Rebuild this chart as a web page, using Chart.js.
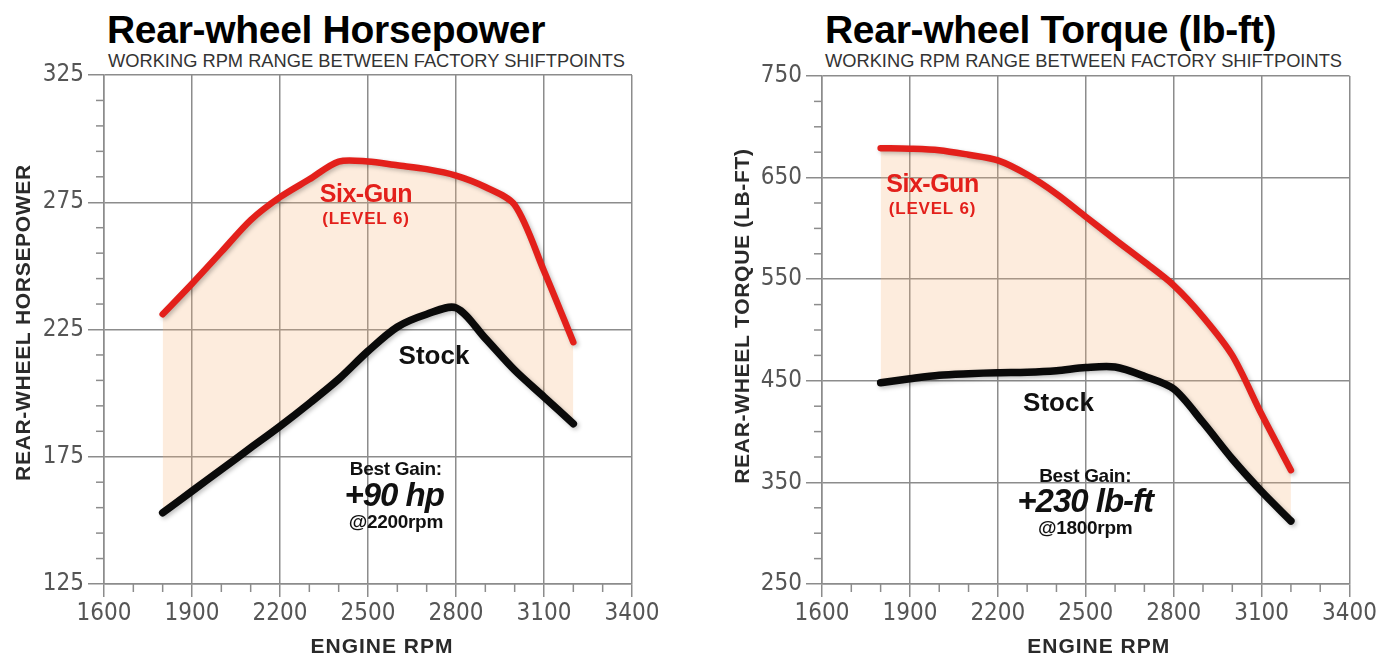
<!DOCTYPE html>
<html>
<head>
<meta charset="utf-8">
<title>Rear-wheel Horsepower / Torque</title>
<script src="https://cdn.jsdelivr.net/npm/chart.js@4.4.0/dist/chart.umd.min.js"></script>
<style>
	body {
		margin: 0;
		background: #fff;
		width: 1379px;
		height: 655px;
		position: relative;
		overflow: hidden;
		font-family: "Liberation Sans", Arial, sans-serif;
	}
	canvas {
		position: absolute;
		top: 0;
	}
	.title {
		position: absolute;
		top: 10px;
		font-weight: bold;
		font-size: 39px;
		line-height: 39px;
		color: #000;
		white-space: nowrap;
		letter-spacing: -0.3px;
	}
	.sub {
		position: absolute;
		top: 52px;
		font-size: 18.3px;
		line-height: 18.3px;
		color: #333;
		white-space: nowrap;
	}
</style>
</head>
<body>
<div class="title" style="left:107px">Rear-wheel Horsepower</div>
<div class="sub" style="left:108px">WORKING RPM RANGE BETWEEN FACTORY SHIFTPOINTS</div>
<div class="title" style="left:825px">Rear-wheel Torque (lb-ft)</div>
<div class="sub" style="left:825px">WORKING RPM RANGE BETWEEN FACTORY SHIFTPOINTS</div>

<canvas id="hp" width="690" height="655" style="left:0"></canvas>
<canvas id="tq" width="689" height="655" style="left:690px"></canvas>

<script>
const rpm = [1800, 1900, 2000, 2100, 2200, 2300, 2400, 2500, 2600, 2700, 2800, 2900, 3000, 3100, 3200];

const hpSixGun = [231, 243, 255.5, 268, 277, 284, 291, 291, 289.5, 288, 285.5, 281, 274, 248, 220];
const hpStock  = [153, 161.5, 170, 178.5, 187, 196, 205.5, 216.5, 226, 231, 233.5, 221.5, 209, 198.5, 188];

const tqSixGun = [679, 678.5, 677, 672.5, 667, 653, 634, 611.5, 589, 567, 544, 513, 475, 417, 362];
const tqStock  = [448, 452, 455.5, 457, 458, 458.5, 460, 463, 463.5, 454.5, 442, 409, 373, 341, 312];

const rpmTicks = [1600, 1900, 2200, 2500, 2800, 3100, 3400];
const hpTicks  = [125, 175, 225, 275, 325];
const tqTicks  = [250, 350, 450, 550, 650, 750];

const RED = '#e3201b';
const GRID = '#8c8c8c';
const TICKFONT = {family: "'Liberation Sans Narrow', 'DejaVu Sans Condensed', sans-serif", size: 24};

// short minor ticks outside the axes
const minorTicks = {
	id: 'minorTicks',
	afterDraw(chart, args, o) {
		const ctx = chart.ctx;
		ctx.save();
		ctx.strokeStyle = GRID;
		ctx.lineWidth = 1.5;
		['x', 'y'].forEach(id => {
			const s = chart.scales[id];
			s.ticks.forEach(t => {
				if (o[id].includes(t.value)) return;
				const p = s.getPixelForValue(t.value);
				ctx.beginPath();
				if (s.isHorizontal()) {
					ctx.moveTo(p, s.top);
					ctx.lineTo(p, s.top + o.len);
				} else {
					ctx.moveTo(s.right, p);
					ctx.lineTo(s.right - o.len, p);
				}
				ctx.stroke();
			});
		});
		ctx.restore();
	}
};

// axis titles (letter spaced)
const axisTitles = {
	id: 'axisTitles',
	afterDraw(chart, args, o) {
		const ctx = chart.ctx, a = chart.chartArea;
		ctx.save();
		ctx.fillStyle = '#2a2a2a';
		ctx.textAlign = 'center';
		ctx.textBaseline = 'middle';
		ctx.font = 'bold 21px "Liberation Sans", Arial, sans-serif';
		ctx.letterSpacing = '1px';
		ctx.fillText(o.x, (a.left + a.right) / 2 + o.xShift, o.xAt);
		ctx.letterSpacing = o.ySpacing;
		ctx.translate(o.yAt, (a.top + a.bottom) / 2 + o.yShift);
		ctx.rotate(-Math.PI / 2);
		ctx.fillText(o.y, 0, 0);
		ctx.restore();
	}
};

// labels inside the plot, placed in data units
const notes = {
	id: 'notes',
	afterDatasetsDraw(chart, args, o) {
		const ctx = chart.ctx, sx = chart.scales.x, sy = chart.scales.y;
		ctx.save();
		ctx.textAlign = 'center';
		ctx.textBaseline = 'middle';
		o.items.forEach(n => {
			ctx.font = n.font;
			ctx.fillStyle = n.color || '#111';
			ctx.letterSpacing = n.ls || '0px';
			ctx.fillText(n.text, sx.getPixelForValue(n.at[0]), sy.getPixelForValue(n.at[1]));
		});
		ctx.restore();
	}
};

// soft shadow under the curves
const lineShadow = {
	id: 'lineShadow',
	beforeDatasetDraw(chart) {
		const ctx = chart.ctx;
		ctx.save();
		ctx.shadowColor = 'rgba(0,0,0,0.25)';
		ctx.shadowBlur = 4;
		ctx.shadowOffsetX = 2;
		ctx.shadowOffsetY = 2;
	},
	afterDatasetDraw(chart) {
		chart.ctx.restore();
	}
};

function makeChart(el, o) {
	return new Chart(el, {
		type: 'line',
		data: {
			labels: rpm,
			datasets: [{
				data: o.top,
				borderColor: RED,
				borderWidth: 6.5,
				borderCapStyle: 'round',
				borderJoinStyle: 'round',
				pointRadius: 0,
				tension: 0.3,
				fill: '+1',
				backgroundColor: 'rgba(247,180,120,0.25)'
			}, {
				data: o.stock,
				borderColor: '#0a0a0a',
				borderWidth: 7.5,
				borderCapStyle: 'round',
				borderJoinStyle: 'round',
				pointRadius: 0,
				tension: 0.3,
				fill: false
			}]
		},
		options: {
			responsive: false,
			animation: false,
			events: [],
			layout: {padding: o.pad},
			scales: {
				x: {
					type: 'linear',
					min: 1600,
					max: 3400,
					afterFit: s => { s.height = 655 - o.bottom - o.pad.bottom; },
					ticks: {
						stepSize: 100,
						autoSkip: false,
						maxRotation: 0,
						padding: 2,
						color: '#555',
						font: TICKFONT,
						callback: v => rpmTicks.includes(v) ? String(v) : ''
					},
					grid: {
						color: c => rpmTicks.includes(c.tick.value) ? GRID : 'transparent',
						tickColor: c => rpmTicks.includes(c.tick.value) ? GRID : 'transparent',
						lineWidth: 1.5,
						tickLength: 13
					},
					border: {color: GRID, width: 1.5}
				},
				y: {
					min: o.min,
					max: o.max,
					afterFit: s => { s.width = o.left; },
					ticks: {
						stepSize: o.step,
						autoSkip: false,
						padding: 4,
						color: '#555',
						font: TICKFONT,
						callback: v => o.ticks.includes(v) ? String(v) : ''
					},
					grid: {
						color: c => o.ticks.includes(c.tick.value) ? GRID : 'transparent',
						tickColor: c => o.ticks.includes(c.tick.value) ? GRID : 'transparent',
						lineWidth: 1.5,
						tickLength: 16
					},
					border: {color: GRID, width: 1.5}
				}
			},
			plugins: {
				legend: {display: false},
				tooltip: {enabled: false},
				filler: {drawTime: 'beforeDatasetsDraw'},
				minorTicks: {x: rpmTicks, y: o.ticks, len: 8},
				axisTitles: o.titles,
				notes: {items: o.notes}
			}
		},
		plugins: [minorTicks, axisTitles, notes, lineShadow]
	});
}

// points on the linear rpm axis
function pts(ys) { return ys.map((y, i) => ({x: rpm[i], y: y})); }

makeChart(document.getElementById('hp'), {
	top: pts(hpSixGun),
	stock: pts(hpStock),
	min: 125, max: 325, step: 10, ticks: hpTicks,
	left: 104, bottom: 584,
	pad: {left: 0, right: 58, top: 75, bottom: 0},
	titles: {x: 'ENGINE RPM', xShift: 14, xAt: 647, y: 'REAR-WHEEL HORSEPOWER', yAt: 24, yShift: -7, ySpacing: '0.7px'},
	notes: [
		{text: 'Six-Gun', at: [2493, 277.8], font: 'bold 25px "Liberation Sans", Arial, sans-serif', color: RED, ls: '-0.5px'},
		{text: '(LEVEL 6)', at: [2493, 268.4], font: 'bold 17px "Liberation Sans", Arial, sans-serif', color: RED, ls: '0.8px'},
		{text: 'Stock', at: [2725, 214.2], font: 'bold 26px "Liberation Sans", Arial, sans-serif'},
		{text: 'Best Gain:', at: [2595, 169.8], font: 'bold 19px "Liberation Sans", Arial, sans-serif', ls: '-0.3px'},
		{text: '+90 hp', at: [2589, 159.2], font: 'italic bold 33px "Liberation Sans", Arial, sans-serif', ls: '-1px'},
		{text: '@2200rpm', at: [2595, 149], font: 'bold 19px "Liberation Sans", Arial, sans-serif', ls: '-0.3px'}
	]
});

makeChart(document.getElementById('tq'), {
	top: pts(tqSixGun),
	stock: pts(tqStock),
	min: 250, max: 750, step: 25, ticks: tqTicks,
	left: 132, bottom: 584,
	pad: {left: 0, right: 22, top: 76, bottom: 0},
	titles: {x: 'ENGINE RPM', xShift: 13, xAt: 647, y: 'REAR-WHEEL TORQUE (LB-FT)', yAt: 53, yShift: -14, ySpacing: '0.7px'},
	notes: [
		{text: 'Six-Gun', at: [1977, 642.7], font: 'bold 25px "Liberation Sans", Arial, sans-serif', color: RED, ls: '-0.5px'},
		{text: '(LEVEL 6)', at: [1977, 619], font: 'bold 17px "Liberation Sans", Arial, sans-serif', color: RED, ls: '0.8px'},
		{text: 'Stock', at: [2407, 427], font: 'bold 26px "Liberation Sans", Arial, sans-serif'},
		{text: 'Best Gain:', at: [2498, 356], font: 'bold 19px "Liberation Sans", Arial, sans-serif', ls: '-0.3px'},
		{text: '+230 lb-ft', at: [2498, 329.7], font: 'italic bold 33px "Liberation Sans", Arial, sans-serif', ls: '-1px'},
		{text: '@1800rpm', at: [2498, 304], font: 'bold 19px "Liberation Sans", Arial, sans-serif', ls: '-0.3px'}
	]
});
</script>
</body>
</html>
